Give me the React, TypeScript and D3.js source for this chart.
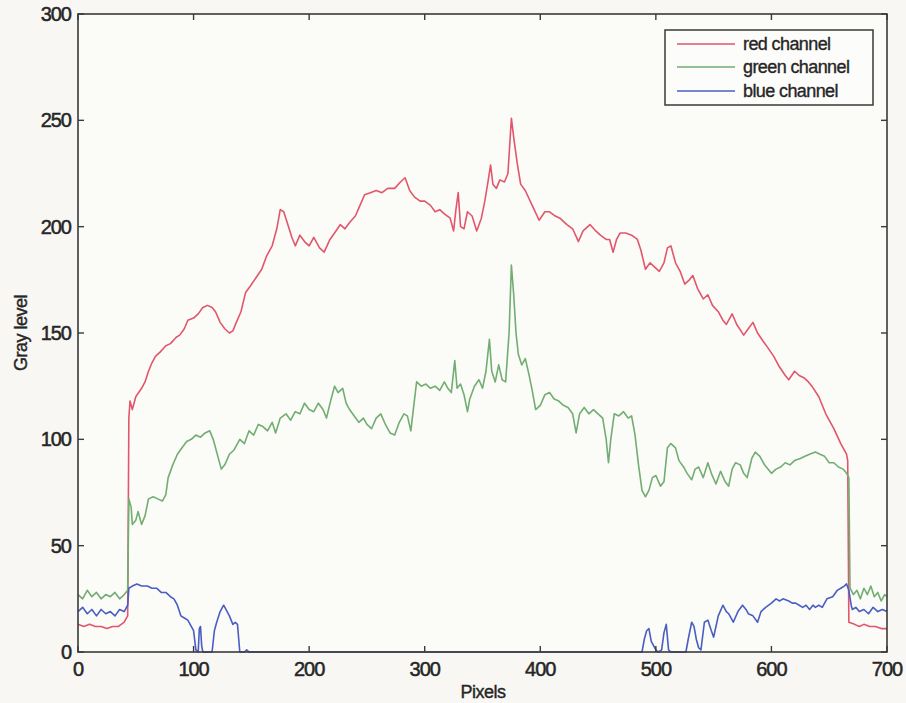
import React from "react";
import * as d3 from "d3";

const xTicks = [0, 100, 200, 300, 400, 500, 600, 700];
const yTicks = [0, 50, 100, 150, 200, 250, 300];
const seriesNames = ["red channel", "green channel", "blue channel"];
const seriesColors = ["#e2566c", "#72ad72", "#4a5ec2"];

const redData: [number, number][] = [
  [0, 13], [5, 12], [10, 13], [15, 12], [20, 12], [25, 11], [30, 12], [35, 12], [40, 14], [42, 16], [43, 17],
  [44, 110], [45, 118], [47, 114], [50, 120], [55, 124], [58, 127], [61, 132], [64, 136], [67, 139], [71, 141],
  [76, 144], [80, 145], [85, 148], [88, 149], [92, 152], [95, 156], [100, 157], [104, 159], [108, 162], [112, 163],
  [116, 162], [119, 160], [123, 155], [127, 152], [131, 150], [134, 151], [137, 155], [141, 160], [145, 169],
  [149, 172], [154, 176], [159, 180], [163, 186], [168, 191], [172, 199], [175, 208], [178, 207], [181, 202],
  [185, 195], [188, 191], [192, 196], [196, 193], [200, 191], [204, 195], [209, 190], [213, 188], [218, 194],
  [222, 197], [227, 201], [231, 199], [235, 202], [240, 205], [244, 210], [248, 215], [253, 216], [258, 217],
  [263, 216], [268, 218], [274, 218], [279, 221], [283, 223], [287, 217], [291, 214], [296, 212], [300, 212],
  [305, 210], [309, 207], [313, 208], [317, 206], [322, 204], [325, 198], [327, 208], [329, 216], [331, 200],
  [334, 199], [337, 207], [341, 205], [345, 198], [349, 204], [352, 212], [355, 222], [357, 229], [359, 220],
  [362, 218], [365, 222], [369, 221], [372, 225], [375, 251], [377, 242], [380, 230], [383, 220], [387, 217],
  [393, 210], [399, 203], [404, 207], [408, 207], [413, 205], [417, 204], [423, 201], [428, 199], [433, 193],
  [437, 198], [443, 201], [448, 198], [452, 196], [457, 194], [460, 194], [463, 188], [466, 194], [469, 197],
  [474, 197], [479, 196], [484, 194], [487, 189], [491, 180], [495, 183], [499, 181], [503, 179], [507, 183],
  [510, 190], [513, 191], [517, 183], [521, 179], [525, 173], [529, 175], [532, 177], [536, 171], [541, 166],
  [545, 168], [549, 163], [554, 160], [558, 156], [561, 154], [566, 159], [570, 154], [576, 149], [580, 152],
  [584, 155], [588, 150], [593, 146], [597, 143], [602, 139], [607, 134], [612, 130], [615, 128], [620, 132],
  [624, 130], [628, 129], [632, 127], [635, 125], [641, 120], [647, 112], [654, 105], [660, 98], [665, 93],
  [666, 90], [667, 14], [672, 13], [676, 12], [680, 13], [685, 12], [690, 12], [695, 11], [700, 11],
];

const greenData: [number, number][] = [
  [0, 27], [4, 25], [8, 29], [12, 26], [16, 28], [20, 25], [24, 27], [28, 26], [32, 28], [36, 25], [40, 27],
  [43, 29], [44, 72], [46, 68], [47, 60], [50, 62], [52, 66], [55, 60], [58, 64], [61, 72], [65, 73], [69, 72],
  [73, 71], [76, 74], [78, 82], [82, 88], [86, 93], [90, 96], [94, 99], [98, 100], [102, 102], [106, 101],
  [110, 103], [114, 104], [117, 100], [120, 94], [124, 86], [127, 88], [131, 93], [135, 95], [140, 100],
  [144, 98], [148, 104], [152, 102], [156, 107], [160, 106], [164, 104], [168, 108], [171, 103], [175, 110],
  [180, 112], [184, 109], [188, 113], [192, 112], [196, 117], [200, 114], [204, 113], [208, 117], [212, 114],
  [215, 110], [219, 119], [222, 125], [225, 122], [229, 124], [232, 117], [235, 114], [239, 111], [243, 108],
  [247, 110], [250, 107], [254, 105], [258, 110], [262, 112], [266, 107], [270, 103], [274, 102], [278, 108],
  [282, 112], [285, 111], [288, 104], [291, 118], [293, 127], [297, 125], [301, 126], [305, 124], [309, 125],
  [313, 123], [317, 127], [320, 124], [323, 122], [326, 137], [328, 124], [331, 126], [334, 121], [337, 113],
  [339, 119], [343, 125], [347, 128], [350, 124], [353, 132], [356, 147], [358, 132], [361, 127], [364, 135],
  [367, 128], [370, 127], [373, 150], [375, 182], [377, 168], [379, 150], [381, 140], [384, 135], [387, 138],
  [390, 131], [393, 123], [396, 114], [400, 116], [404, 121], [408, 122], [412, 119], [416, 118], [420, 116],
  [424, 115], [428, 112], [431, 103], [434, 112], [438, 115], [442, 112], [446, 114], [450, 112], [454, 110],
  [457, 100], [459, 89], [461, 100], [464, 112], [468, 111], [472, 113], [476, 110], [479, 111], [482, 102],
  [485, 88], [488, 76], [491, 73], [494, 76], [497, 82], [500, 83], [504, 78], [507, 80], [510, 96], [513, 98],
  [517, 96], [520, 90], [524, 87], [527, 84], [531, 81], [534, 86], [537, 87], [541, 82], [545, 89], [548, 84],
  [552, 79], [556, 85], [560, 80], [563, 78], [566, 86], [569, 89], [573, 88], [576, 84], [579, 82], [583, 91],
  [586, 94], [590, 92], [594, 88], [597, 86], [600, 84], [604, 86], [608, 87], [612, 89], [616, 88], [620, 90],
  [625, 91], [629, 92], [633, 93], [638, 94], [642, 93], [646, 92], [650, 89], [654, 89], [658, 87], [662, 86],
  [665, 84], [667, 82], [668, 30], [671, 27], [674, 29], [677, 25], [680, 30], [683, 27], [686, 31], [689, 26],
  [692, 28], [695, 24], [698, 27], [700, 26],
];

const blueData: [number, number][] = [
  [0, 19], [4, 21], [8, 18], [12, 20], [16, 17], [20, 20], [24, 18], [28, 19], [32, 17], [36, 20], [40, 19],
  [43, 22], [44, 30], [47, 31], [51, 32], [55, 31], [60, 31], [64, 30], [68, 30], [72, 28], [76, 28], [80, 26],
  [83, 25], [86, 22], [89, 17], [92, 16], [95, 15], [98, 12], [100, 10], [102, 1], [104, 0], [105, 11],
  [106, 12], [107, 3], [108, 0], [116, 0], [118, 10], [120, 14], [123, 19], [126, 22], [128, 20], [131, 17],
  [134, 13], [136, 14], [138, 13], [140, 0], [144, 0], [146, 1], [148, 0], [488, 0], [490, 6], [492, 10],
  [494, 11], [496, 5], [498, 3], [500, 1], [502, 0], [505, 1], [507, 9], [509, 13], [511, 1], [513, 0],
  [526, 0], [528, 6], [531, 14], [533, 12], [535, 6], [537, 2], [539, 1], [542, 14], [545, 15], [548, 10],
  [550, 7], [552, 12], [554, 17], [558, 22], [561, 19], [563, 18], [567, 14], [571, 19], [575, 22], [578, 20],
  [580, 18], [584, 17], [588, 14], [591, 19], [595, 21], [600, 23], [604, 25], [607, 24], [610, 25], [615, 24],
  [618, 23], [621, 23], [624, 22], [627, 21], [630, 22], [633, 20], [636, 22], [638, 21], [641, 22], [644, 21],
  [648, 25], [653, 26], [657, 29], [660, 30], [663, 31], [665, 32], [667, 29], [669, 22], [670, 20], [673, 21],
  [676, 19], [680, 20], [684, 18], [688, 21], [692, 19], [696, 20], [700, 19],
];

const allSeries = [redData, greenData, blueData];

const W = 906;
const H = 703;
const left = 78;
const right = 887;
const top = 14;
const bottom = 652;

export default function App() {
  const x = d3.scaleLinear().domain([0, 700]).range([left, right]);
  const y = d3.scaleLinear().domain([0, 300]).range([bottom, top]);
  const line = d3
    .line<[number, number]>()
    .x((d) => x(d[0]))
    .y((d) => y(d[1]));
  const tickLen = 6;
  const font = "'Liberation Sans', Arial, sans-serif";
  const textColor = "#262626";
  const axisColor = "#3a3a3a";

  const legendX = 665;
  const legendY = 30;
  const legendW = 208;
  const legendH = 75;
  const legendRows = [44, 67, 91];

  return (
    <svg
      width={W}
      height={H}
      style={{ position: "absolute", left: 0, top: 0, background: "#f8f7f3" }}
    >
      <rect x={0} y={0} width={W} height={H} fill="#f8f7f3" />
      <rect x={left} y={top} width={right - left} height={bottom - top} fill="#fbfbf8" />
      {allSeries.map((s, i) => (
        <path
          key={i}
          d={line(s) || ""}
          fill="none"
          stroke={seriesColors[i]}
          strokeWidth={1.6}
          strokeLinejoin="round"
        />
      ))}
      {/* frame */}
      <rect
        x={left}
        y={top}
        width={right - left}
        height={bottom - top}
        fill="none"
        stroke={axisColor}
        strokeWidth={1.6}
      />
      {xTicks.map((t) => (
        <g key={"x" + t}>
          <line x1={x(t)} x2={x(t)} y1={bottom} y2={bottom - tickLen} stroke={axisColor} strokeWidth={1.4} />
          <line x1={x(t)} x2={x(t)} y1={top} y2={top + tickLen} stroke={axisColor} strokeWidth={1.4} />
          <text
            x={x(t)}
            y={676}
            textAnchor="middle"
            fontFamily={font}
            fontSize={20}
            letterSpacing={-1}
            fill={textColor}
            stroke={textColor}
            strokeWidth={0.5}
          >
            {t}
          </text>
        </g>
      ))}
      {yTicks.map((t) => (
        <g key={"y" + t}>
          <line x1={left} x2={left + tickLen} y1={y(t)} y2={y(t)} stroke={axisColor} strokeWidth={1.4} />
          <line x1={right} x2={right - tickLen} y1={y(t)} y2={y(t)} stroke={axisColor} strokeWidth={1.4} />
          <text
            x={71}
            y={y(t) + 7}
            textAnchor="end"
            fontFamily={font}
            fontSize={20}
            letterSpacing={-1}
            fill={textColor}
            stroke={textColor}
            strokeWidth={0.5}
          >
            {t}
          </text>
        </g>
      ))}
      <text
        x={483}
        y={698}
        textAnchor="middle"
        fontFamily={font}
        fontSize={18}
        letterSpacing={-0.5}
        fill={textColor}
        stroke={textColor}
        strokeWidth={0.4}
      >
        Pixels
      </text>
      <text
        transform={`translate(27, ${333}) rotate(-90)`}
        textAnchor="middle"
        fontFamily={font}
        fontSize={18}
        letterSpacing={-0.5}
        fill={textColor}
        stroke={textColor}
        strokeWidth={0.4}
      >
        Gray level
      </text>
      {/* legend */}
      <rect
        x={legendX}
        y={legendY}
        width={legendW}
        height={legendH}
        fill="#fcfcfa"
        stroke={axisColor}
        strokeWidth={1.5}
      />
      {seriesNames.map((n, i) => (
        <g key={n}>
          <line
            x1={677}
            x2={735}
            y1={legendRows[i]}
            y2={legendRows[i]}
            stroke={seriesColors[i]}
            strokeWidth={1.6}
          />
          <text
            x={743}
            y={legendRows[i] + 6}
            fontFamily={font}
            fontSize={18}
            letterSpacing={-0.6}
            fill={textColor}
            stroke={textColor}
            strokeWidth={0.35}
          >
            {n}
          </text>
        </g>
      ))}
    </svg>
  );
}
